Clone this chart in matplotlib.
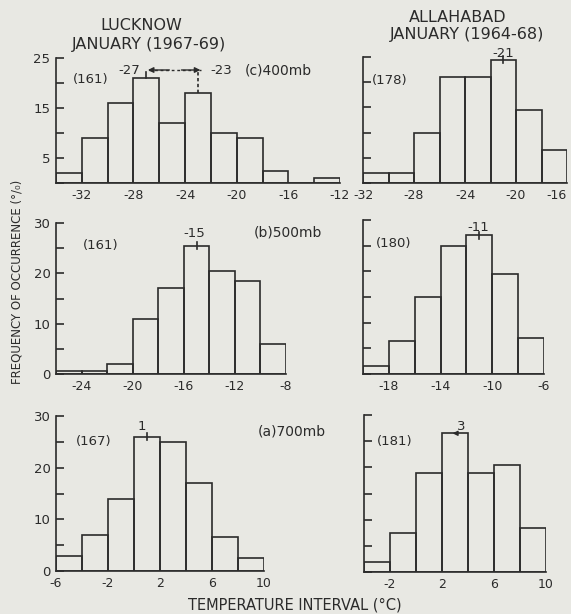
import matplotlib
matplotlib.use('Agg')
import matplotlib.pyplot as plt

# bin left edges (deg C) and frequency of occurrence (%)
luck400_bins = [-34, -32, -30, -28, -26, -24, -22, -20, -18, -16, -14]
luck400_freq = [2, 9, 16, 21, 12, 18, 10, 9, 2.5, 0, 1]
alla400_bins = [-32, -30, -28, -26, -24, -22, -20, -18]
alla400_freq = [2, 2, 10, 21, 21, 24.5, 14.5, 6.5]

luck500_bins = [-26, -24, -22, -20, -18, -16, -14, -12, -10]
luck500_freq = [0.5, 0.5, 2, 11, 17, 25.5, 20.5, 18.5, 6]
alla500_bins = [-20, -18, -16, -14, -12, -10, -8]
alla500_freq = [1.5, 6.5, 15, 25, 27, 19.5, 7]

luck700_bins = [-6, -4, -2, 0, 2, 4, 6, 8]
luck700_freq = [3, 7, 14, 26, 25, 17, 6.5, 2.5]
alla700_bins = [-4, -2, 0, 2, 4, 6, 8]
alla700_freq = [2, 7.5, 19, 26.5, 19, 20.5, 8.5]

luck400_xt = [-32, -28, -24, -20, -16, -12]
alla400_xt = [-32, -28, -24, -20, -16]
luck500_xt = [-24, -20, -16, -12, -8]
alla500_xt = [-18, -14, -10, -6]
luck700_xt = [-6, -2, 2, 6, 10]
alla700_xt = [-2, 2, 6, 10]

ink = '#2b2b2b'
bg = '#e8e8e3'
W, H = 571, 614

fig = plt.figure(figsize=(W / 100, H / 100), dpi=100, facecolor=bg)


def panel(px_left, px_right, px_top, px_bottom, bins, freq, xlim, ymax,
          xticks, ylabels):
    ax = fig.add_axes([px_left / W, 1 - px_bottom / H,
                       (px_right - px_left) / W, (px_bottom - px_top) / H])
    ax.set_facecolor('none')
    ax.bar(bins, freq, width=2, align='edge', fill=False,
           edgecolor=ink, linewidth=1.2)
    ax.set_xlim(*xlim)
    ax.set_ylim(0, ymax)
    for s in ['top', 'right']:
        ax.spines[s].set_visible(False)
    for s in ['left', 'bottom']:
        ax.spines[s].set_color(ink)
        ax.spines[s].set_linewidth(1.2)
    ax.set_xticks(xticks)
    ax.set_xticklabels([str(t) for t in xticks])
    ax.tick_params(axis='x', length=0, pad=4, labelsize=9, colors=ink)
    ax.set_yticks(list(range(0, ymax + 1, 5)))
    if ylabels:
        ax.set_yticklabels([str(v) if v in ylabels else ''
                            for v in range(0, ymax + 1, 5)])
    else:
        ax.set_yticklabels([])
    ax.tick_params(axis='y', direction='in', length=6, width=1.2,
                   pad=4, labelsize=9.5, colors=ink)
    return ax


def txt(ax, x, y, s, size=9.5, ha='left'):
    ax.text(x, y, s, fontsize=size, color=ink, ha=ha, va='center',
            clip_on=False)


def peak_tick(ax, x, y):
    ax.plot([x, x], [y - 0.7, y + 0.7], color=ink, lw=1.2, clip_on=False)


# 400 mb
a = panel(56, 340, 58, 183, luck400_bins, luck400_freq, (-34, -12), 25,
          luck400_xt, [5, 15, 25])
txt(a, -32.7, 20.6, '(161)')
txt(a, -28.3, 22.6, '-27', ha='center')
txt(a, -21.2, 22.6, '-23', ha='center')
a.annotate('', xy=(-27.1, 22.6), xytext=(-25, 22.6),
           arrowprops=dict(arrowstyle='-|>', color=ink, lw=1, mutation_scale=8),
           annotation_clip=False)
a.annotate('', xy=(-22.6, 22.6), xytext=(-24.5, 22.6),
           arrowprops=dict(arrowstyle='-|>', color=ink, lw=1, mutation_scale=8),
           annotation_clip=False)
a.plot([-26.8, -22.8], [22.6, 22.6], color=ink, lw=1, ls=(0, (2, 2)),
       clip_on=False)
a.plot([-23, -23], [18, 22.3], color=ink, lw=1.2, ls=(0, (2, 1.5)),
       clip_on=False)
a.plot([-27, -27], [21, 22.3], color=ink, lw=1.2, clip_on=False)
txt(a, -19.4, 22.6, '(c)400mb', size=10)

b = panel(363, 567, 57, 183, alla400_bins, alla400_freq, (-32, -16), 25,
          alla400_xt, None)
b.get_xticklabels()[-1].set_horizontalalignment('right')
txt(b, -31.3, 20.4, '(178)')
peak_tick(b, -21, 24.5)
txt(b, -21, 25.6, '-21', ha='center')

# 500 mb
c = panel(56, 286, 223, 374, luck500_bins, luck500_freq, (-26, -8), 30,
          luck500_xt, [0, 10, 20, 30])
txt(c, -23.9, 25.6, '(161)')
peak_tick(c, -15, 25.5)
txt(c, -15.2, 27.9, '-15', ha='center')
txt(c, -10.5, 28.2, '(b)500mb', size=10)

d = panel(363, 544, 220, 374, alla500_bins, alla500_freq, (-20, -6), 30,
          alla500_xt, None)
txt(d, -19.0, 25.5, '(180)')
peak_tick(d, -11, 27)
txt(d, -11.1, 28.5, '-11', ha='center')

# 700 mb
e = panel(56, 264, 416, 571, luck700_bins, luck700_freq, (-6, 10), 30,
          luck700_xt, [0, 10, 20, 30])
txt(e, -4.5, 25, '(167)')
peak_tick(e, 1, 26)
txt(e, 0.6, 27.9, '1', ha='center')
txt(e, 9.5, 27.0, '(a)700mb', size=10)

f = panel(364, 546, 415, 572, alla700_bins, alla700_freq, (-4, 10), 30,
          alla700_xt, None)
txt(f, -3.0, 24.9, '(181)')
f.annotate('', xy=(2.6, 26.5), xytext=(3.3, 26.5),
           arrowprops=dict(arrowstyle='-|>', color=ink, lw=1, mutation_scale=7),
           annotation_clip=False)
txt(f, 3.5, 27.8, '3', ha='center')

# headings and axis titles
fig.text(141 / W, 1 - 25 / H, 'LUCKNOW', fontsize=11.5, color=ink,
         ha='center', va='center')
fig.text(149 / W, 1 - 44 / H, 'JANUARY (1967-69)', fontsize=11.5, color=ink,
         ha='center', va='center')
fig.text(458 / W, 1 - 17 / H, 'ALLAHABAD', fontsize=11.5, color=ink,
         ha='center', va='center')
fig.text(467 / W, 1 - 35 / H, 'JANUARY (1964-68)', fontsize=11.5, color=ink,
         ha='center', va='center')
fig.text(17 / W, 1 - 282 / H, 'FREQUENCY OF OCCURRENCE (\u00b0/\u2080)',
         fontsize=8.5, color=ink, rotation=90, ha='center', va='center')
fig.text(295 / W, 1 - 605 / H, 'TEMPERATURE INTERVAL (\u00b0C)', fontsize=10.5,
         color=ink, ha='center', va='center')

fig.savefig('out.png', dpi=100, facecolor=bg)
